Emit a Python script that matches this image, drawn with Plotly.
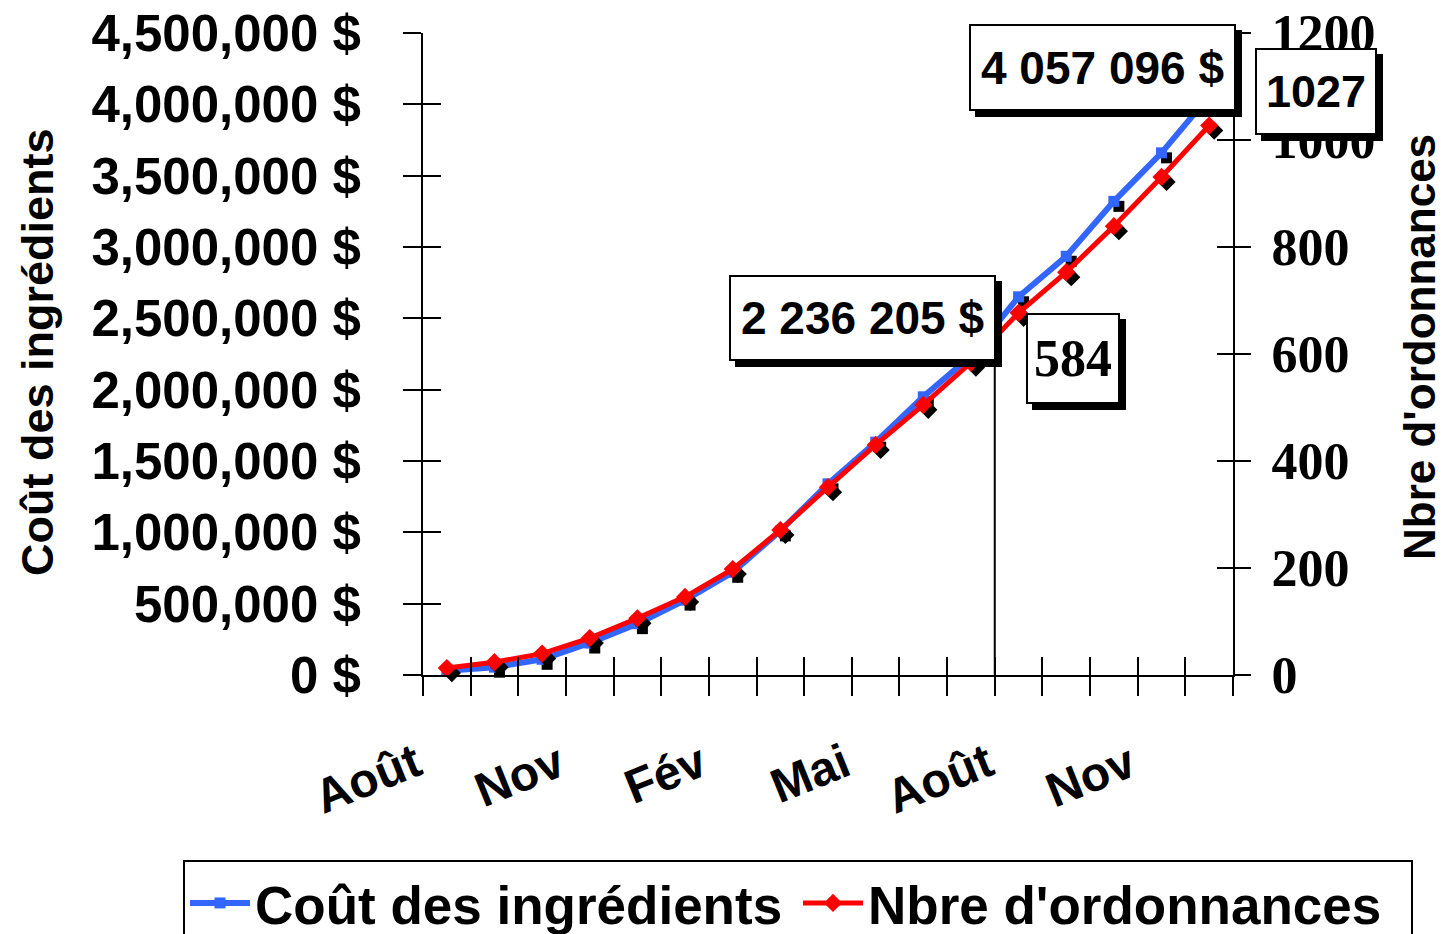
import plotly.graph_objects as go

# ---------------- data ----------------
months = ["Août", "Sep", "Oct", "Nov", "Déc", "Jan", "Fév", "Mar", "Avr", "Mai",
          "Juin", "Juil", "Août", "Sep", "Oct", "Nov", "Déc"]
shown_labels = {0: "Août", 3: "Nov", 6: "Fév", 9: "Mai", 12: "Août", 15: "Nov"}
cost = [30000, 55000, 110000, 224000, 360000, 525000, 720000, 1010000, 1340000,
        1632000, 1950000, 2236205, 2651000, 2935000, 3320000, 3660000, 4057096]
count = [13, 24, 40, 69, 106, 146, 198, 271, 351, 430, 505, 584, 677, 753, 839, 931, 1027]
cost_ticks = [0, 500000, 1000000, 1500000, 2000000, 2500000, 3000000, 3500000, 4000000, 4500000]
count_ticks = [0, 200, 400, 600, 800, 1000, 1200]

SANS = "Liberation Sans, Arial, sans-serif"
SERIF = "Liberation Serif, Times New Roman, serif"
BLUE = "#3366FF"
RED = "#FF0000"

W, H = 1443, 934
L, R, T, B = 423, 210, 33, 259
pw, ph = W - L - R, H - T - B

idx = list(range(len(months)))
xr = [-0.5, len(months) - 0.5]
cost_max, count_max = 4500000, 1200

# shadow offset (px) converted to data units
sh = 5
dx = sh * (xr[1] - xr[0]) / pw
dyc = sh * cost_max / ph
dyn = sh * count_max / ph

fig = go.Figure()

# shadows
fig.add_trace(go.Scatter(x=[i + dx for i in idx], y=[v - dyc for v in cost], mode="markers",
                         marker=dict(symbol="square", size=11, color="black"),
                         showlegend=False, hoverinfo="skip", cliponaxis=False, yaxis="y"))
fig.add_trace(go.Scatter(x=[i + dx for i in idx], y=[v - dyn for v in count], mode="markers",
                         marker=dict(symbol="diamond", size=14, color="black"),
                         showlegend=False, hoverinfo="skip", cliponaxis=False, yaxis="y2"))
# main series
fig.add_trace(go.Scatter(x=idx, y=cost, mode="lines+markers", name="Coût des ingrédients",
                         line=dict(color=BLUE, width=6),
                         marker=dict(symbol="square", size=11, color=BLUE),
                         cliponaxis=False, yaxis="y"))
fig.add_trace(go.Scatter(x=idx, y=count, mode="lines+markers", name="Nbre d'ordonnances",
                         line=dict(color=RED, width=5),
                         marker=dict(symbol="diamond", size=14, color=RED),
                         cliponaxis=False, yaxis="y2"))
# dummy traces for inner tick axes
fig.add_trace(go.Scatter(x=[], y=[], xaxis="x2", yaxis="y3", showlegend=False, hoverinfo="skip"))
fig.add_trace(go.Scatter(x=[], y=[], xaxis="x2", yaxis="y4", showlegend=False, hoverinfo="skip"))

xtickvals = [i - 0.5 for i in range(len(months) + 1)]

fig.update_layout(
    width=W, height=H,
    margin=dict(l=L, r=R, t=T, b=B, autoexpand=False),
    paper_bgcolor="white", plot_bgcolor="white",
    xaxis=dict(range=xr, showline=True, linecolor="black", linewidth=2,
               tickmode="array", tickvals=xtickvals, ticks="outside", ticklen=19,
               tickwidth=2, tickcolor="black", showticklabels=False,
               showgrid=False, zeroline=False, anchor="y", automargin=False),
    xaxis2=dict(range=xr, overlaying="x", anchor="y", side="bottom", showline=False,
                tickmode="array", tickvals=xtickvals, ticks="inside", ticklen=18,
                tickwidth=2, tickcolor="black", showticklabels=False,
                showgrid=False, zeroline=False, automargin=False),
    yaxis=dict(range=[0, cost_max], showline=True, linecolor="black", linewidth=2,
               tickmode="array", tickvals=cost_ticks,
               ticktext=[f"{v:,} $" for v in cost_ticks],
               ticks="outside", ticklen=18, tickwidth=2, tickcolor="black",
               tickfont=dict(family=SANS, size=51, color="black", weight="bold"),
               ticklabelstandoff=32, automargin=False,
               showgrid=False, zeroline=False, anchor="x"),
    yaxis2=dict(range=[0, count_max], overlaying="y", side="right", anchor="x",
                showline=True, linecolor="black", linewidth=2,
                tickmode="array", tickvals=count_ticks,
                ticks="outside", ticklen=16, tickwidth=2, tickcolor="black",
                tickfont=dict(family=SERIF, size=52, color="black", weight="bold"),
                ticklabelstandoff=10, automargin=False,
                showgrid=False, zeroline=False),
    yaxis3=dict(range=[0, cost_max], overlaying="y", side="left", anchor="x2",
                showline=False, tickmode="array", tickvals=cost_ticks,
                ticks="inside", ticklen=18, tickwidth=2, tickcolor="black",
                showticklabels=False, showgrid=False, zeroline=False, automargin=False),
    yaxis4=dict(range=[0, count_max], overlaying="y", side="right", anchor="x2",
                showline=False, tickmode="array", tickvals=count_ticks,
                ticks="inside", ticklen=16, tickwidth=2, tickcolor="black",
                showticklabels=False, showgrid=False, zeroline=False, automargin=False),
    legend=dict(orientation="h", x=(183 - L) / pw, y=(T + ph - 860) / ph,
                xanchor="left", yanchor="top",
                bgcolor="white", bordercolor="black", borderwidth=2,
                font=dict(family=SANS, size=53, color="black", weight="bold"),
                itemwidth=60, entrywidth=538, entrywidthmode="pixels"),
    showlegend=True,
)

def px_to_paper(px, py):
    return (px - L) / pw, (T + ph - py) / ph

annos = []
# axis titles
tx, ty = px_to_paper(37, 352)
annos.append(dict(text="Coût des ingrédients", x=tx, y=ty, xref="paper", yref="paper",
                  textangle=-90, showarrow=False, xanchor="center", yanchor="middle",
                  font=dict(family=SANS, size=45, color="black", weight="bold")))
tx, ty = px_to_paper(1419, 347)
annos.append(dict(text="Nbre d'ordonnances", x=tx, y=ty, xref="paper", yref="paper",
                  textangle=-90, showarrow=False, xanchor="center", yanchor="middle",
                  font=dict(family=SANS, size=44, color="black", weight="bold")))
# month labels
_, ly = px_to_paper(0, 731)
for i, lab in shown_labels.items():
    annos.append(dict(text=lab, x=i, y=ly, xref="x", yref="paper", textangle=-22,
                      showarrow=False, xanchor="right", yanchor="top", xshift=-16,
                      font=dict(family=SANS, size=48, color="black", weight="bold")))

# value call-outs with drop shadow
def callout(text, cx, cy, w, h, family, size):
    x, y = px_to_paper(cx, cy)
    base = dict(text=text, x=x, y=y, xref="paper", yref="paper", showarrow=False,
                xanchor="center", yanchor="middle", width=w - 4, height=h - 4,
                borderpad=0, borderwidth=2)
    annos.append(dict(base, bgcolor="black", bordercolor="black", xshift=6, yshift=-6,
                      font=dict(family=family, size=size, color="black", weight="bold")))
    annos.append(dict(base, bgcolor="white", bordercolor="black",
                      font=dict(family=family, size=size, color="black", weight="bold")))

callout(f"{cost[11]:,}".replace(",", " ") + " $", 862.5, 318, 267, 86, SANS, 46)
callout(str(count[11]), 1073, 358.5, 94, 91, SERIF, 52)
callout(f"{cost[-1]:,}".replace(",", " ") + " $", 1102.5, 67.5, 267, 87, SANS, 46)
callout(str(count[-1]), 1316, 91.5, 122, 87, SANS, 45)

fig.update_layout(annotations=annos)

# year separator line
_, sy = px_to_paper(0, 362)
fig.add_shape(type="line", xref="x", yref="y domain", x0=11.5, x1=11.5, y0=0, y1=sy,
              line=dict(color="black", width=2))

fig.write_html("out.html", config={"displayModeBar": False},
               post_script="document.body.style.margin='0';document.body.style.overflow='hidden';")
